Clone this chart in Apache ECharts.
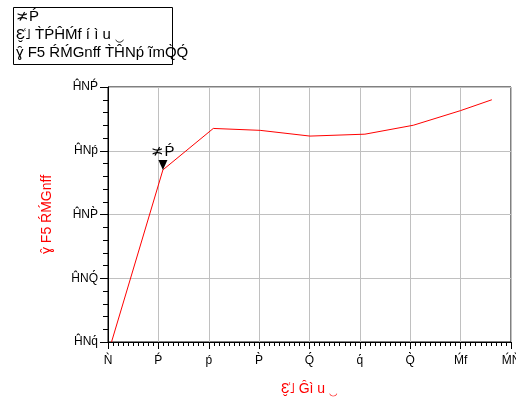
<!DOCTYPE html>
<html>
<head>
<meta charset="utf-8">
<script src="https://cdn.jsdelivr.net/npm/echarts@6/dist/echarts.min.js"></script>
<style>html,body{margin:0;padding:0;background:#fff}#c{width:516px;height:402px}</style>
</head>
<body>
<div id="c"></div>
<script>
// data
var xValues = [0.07, 1.09, 2.09, 3.02, 4.01, 5.1, 6.06, 7.0, 7.62];
var yValues = [-0.5, -0.23, -0.165, -0.168, -0.177, -0.174, -0.16, -0.137, -0.12];
var xTickLabels = ['Ǹ', 'Ṕ', 'ṕ', 'P̀', 'Q́', 'q́', 'Q̀', 'Ḿf', 'ḾǸ'];
var yTickLabels = { '1': 'ĤNṔ', '2': 'ĤNṕ', '3': 'ĤNP̀', '4': 'ĤNQ́', '5': 'ĤNq́' };
var markerPoint = [1.09, -0.23];
var markerLabel = '≭Ṕ';
var legendLines = ['≭Ṕ', 'Ɛ̮͑˩ T̀ṔĤḾf í ì u ‿', 'ɣ̑ F5 ŔḾGnff T̀ĤNṕ ĩmQ̀Q́'];
var xAxisName = 'Ɛ̮͑˩ Ĝì u ‿';
var yAxisName = 'ɣ̑ F5 ŔḾGnff';

var font = 'Liberation Sans, Arial, sans-serif';
var chart = echarts.init(document.getElementById('c'), null, {renderer: 'canvas'});
var pts = xValues.map(function (x, i) { return [x, yValues[i]]; });

chart.setOption({
  animation: false,
  backgroundColor: '#fff',
  grid: { left: 108, right: 5, top: 87, bottom: 60, containLabel: false, outerBoundsMode: 'none',
    show: true, borderColor: '#000', borderWidth: 1, backgroundColor: 'transparent' },
  xAxis: {
    type: 'value', min: 0, max: 8, interval: 1,
    name: xAxisName, nameLocation: 'middle', nameGap: 40,
    nameTextStyle: { color: '#ff0000', fontSize: 14, fontFamily: font },
    axisLine: { show: true, onZero: false, lineStyle: { color: '#000', width: 1 } },
    axisTick: { show: true, length: 7, lineStyle: { color: '#000' } },
    minorTick: { show: true, splitNumber: 10, length: 4, lineStyle: { color: '#000' } },
    splitLine: { show: true, lineStyle: { color: '#c0c0c0', width: 1 } },
    axisLabel: { color: '#000', fontSize: 12, fontFamily: font, margin: 13, showMaxLabel: true,
      formatter: function (v) { return xTickLabels[Math.round(v)] || ''; } }
  },
  yAxis: {
    type: 'value', min: -0.5, max: -0.1, interval: 0.1,
    name: yAxisName, nameLocation: 'middle', nameGap: 54, nameRotate: 90,
    nameTextStyle: { color: '#ff0000', fontSize: 14, fontFamily: font },
    axisLine: { show: true, onZero: false, lineStyle: { color: '#000', width: 1 } },
    axisTick: { show: true, length: 8, lineStyle: { color: '#000' } },
    minorTick: { show: true, splitNumber: 5, length: 5, lineStyle: { color: '#000' } },
    splitLine: { show: true, lineStyle: { color: '#c0c0c0', width: 1 } },
    axisLabel: { color: '#000', fontSize: 12, fontFamily: font, margin: 10,
      formatter: function (v) { return yTickLabels[String(Math.round(-v * 10))] || ''; } }
  },
  graphic: [
    { type: 'rect', left: 13, top: 7, shape: { width: 159, height: 57 }, style: { fill: '#fff', stroke: '#000', lineWidth: 1 }, z: 100 },
    { type: 'text', left: 16, top: 9, z: 101, style: { text: legendLines[0], fill: '#000', font: '15px ' + font } },
    { type: 'text', left: 16, top: 27, z: 101, style: { text: legendLines[1], fill: '#000', font: '15px ' + font } },
    { type: 'text', left: 16, top: 45, z: 101, style: { text: legendLines[2], fill: '#000', font: '15px ' + font } }
  ],
  series: [{
    type: 'line', data: pts, showSymbol: false, symbol: 'none',
    lineStyle: { color: '#ff0000', width: 1 }, itemStyle: { color: '#ff0000' },
    clip: true,
    markPoint: {
      symbol: 'triangle', symbolRotate: 180, symbolSize: [9, 10], symbolOffset: [0, -5],
      itemStyle: { color: '#000' },
      label: { show: true, position: 'top', distance: 1, formatter: markerLabel, color: '#000', fontSize: 15, fontFamily: font },
      data: [{ coord: markerPoint }]
    }
  }]
});
</script>
</body>
</html>
